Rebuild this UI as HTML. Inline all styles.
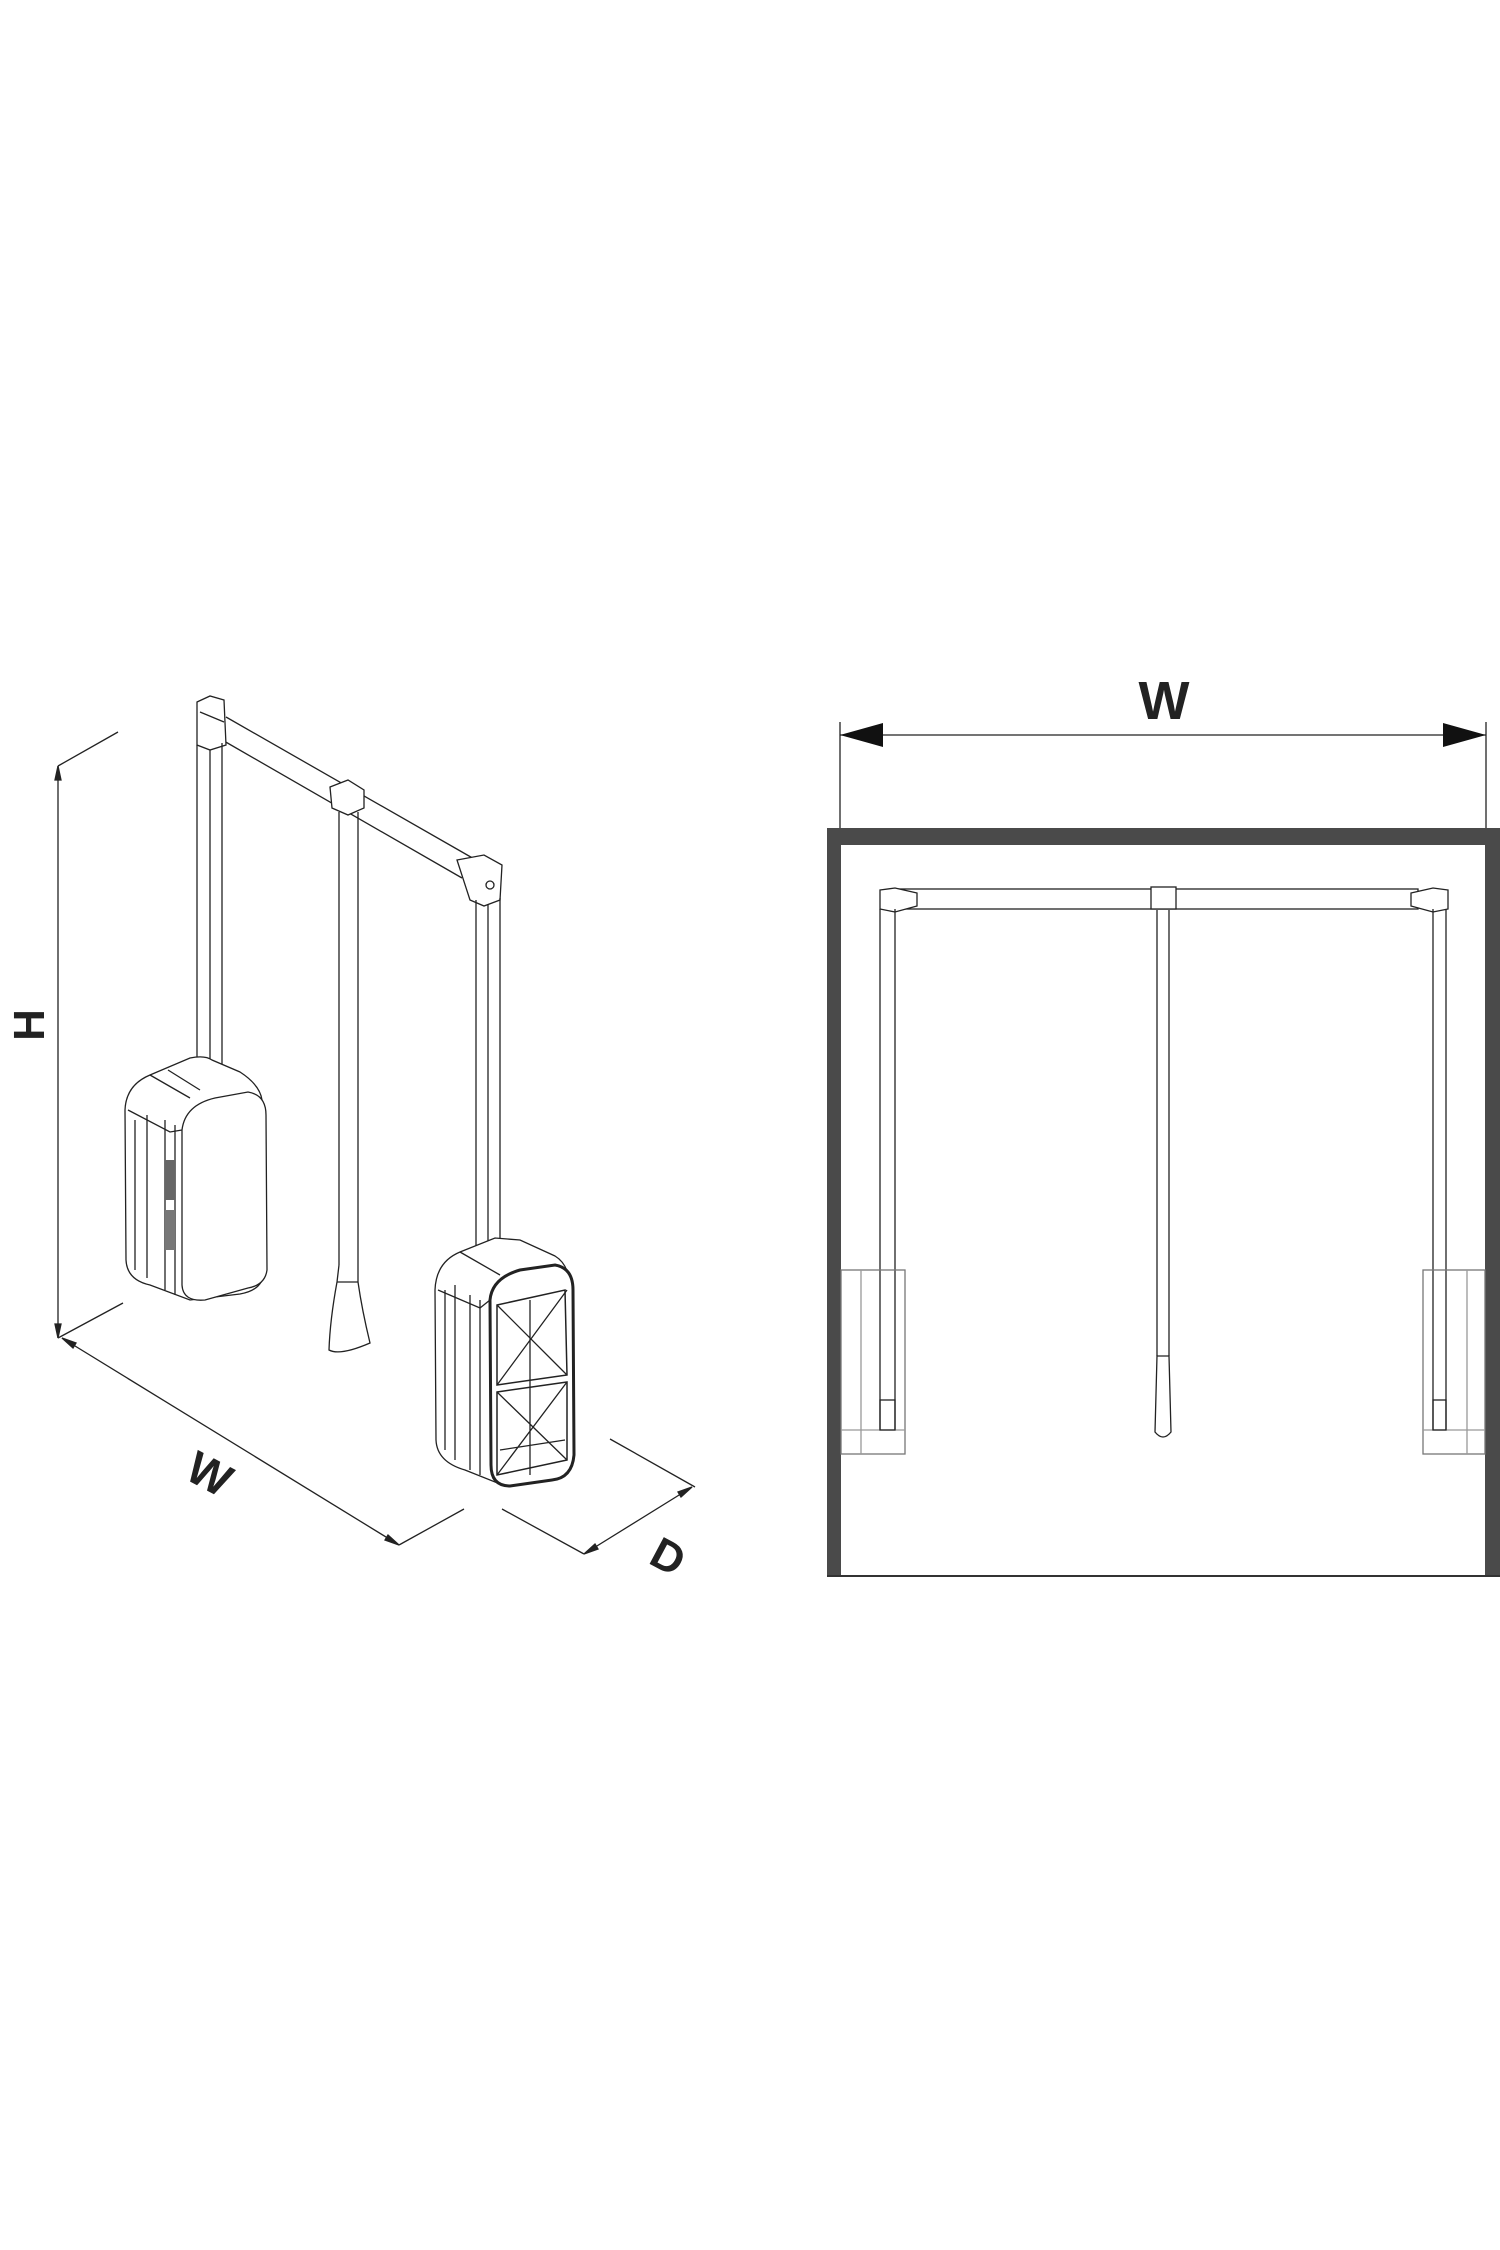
<!DOCTYPE html>
<html><head><meta charset="utf-8"><style>
html,body{margin:0;padding:0;background:#fff;}
svg{display:block;}
</style></head><body>
<svg width="1500" height="2250" viewBox="0 0 1500 2250" xmlns="http://www.w3.org/2000/svg">
<rect width="1500" height="2250" fill="#fff"/>
<g stroke="#222" fill="none" stroke-width="1.3">
<!-- H dimension -->
<line x1="58" y1="766" x2="58" y2="1338"/>
<line x1="58" y1="766" x2="118" y2="732"/>
<line x1="58" y1="1338" x2="123" y2="1303"/>
<polygon points="58,766 55,780 61,780" fill="#222"/>
<polygon points="58,1338 55,1324 61,1324" fill="#222"/>
<!-- W diagonal -->
<line x1="62" y1="1338" x2="399" y2="1545"/>
<line x1="399" y1="1545" x2="464" y2="1509"/>
<polygon points="62,1338 76,1343 73,1348" fill="#222"/>
<polygon points="399,1545 385,1540 388,1535" fill="#222"/>
<!-- D -->
<line x1="584" y1="1554" x2="692" y2="1487"/>
<line x1="502" y1="1509" x2="584" y2="1554"/>
<line x1="610" y1="1439" x2="695" y2="1487"/>
<polygon points="584,1554 595,1544 598,1549" fill="#222"/>
<polygon points="692,1487 681,1497 678,1492" fill="#222"/>

<!-- rail -->
<line x1="226" y1="717" x2="476" y2="860"/>
<line x1="224" y1="741" x2="462" y2="878"/>
<path d="M197,702 L210,696 L224,700 L226,745 L210,750 L197,745 Z" fill="#fff"/>
<path d="M200,712 L224,722"/>
<path d="M330,787 L348,780 L364,790 L364,808 L348,815 L332,808 Z" fill="#fff"/>
<path d="M457,860 L484,855 L502,865 L500,900 L484,906 L470,900 Z" fill="#fff"/>
<circle cx="490" cy="885" r="4"/>
<!-- left rod -->
<line x1="197" y1="745" x2="197" y2="1101"/>
<line x1="210" y1="750" x2="210" y2="1101"/>
<line x1="222" y1="743" x2="222" y2="1101"/>
<!-- center rod -->
<line x1="339" y1="812" x2="339" y2="1265"/>
<line x1="358" y1="812" x2="358" y2="1265"/>
<path d="M339,1265 L337,1282 Q330,1320 329,1350 Q340,1356 370,1343 Q362,1310 358,1282 L358,1265"/>
<line x1="337" y1="1282" x2="358" y2="1282"/>
<!-- left box -->
<path d="M125,1110 Q126,1085 150,1075 L190,1058 Q205,1055 212,1060 L240,1072 Q260,1085 262,1100 L264,1270 Q264,1290 240,1294 L190,1300 L150,1285 Q127,1280 126,1260 Z" fill="#fff"/>
<path d="M182,1130 Q185,1105 215,1098 L248,1092 Q266,1095 266,1115 L267,1270 Q265,1285 248,1288 L205,1300 Q183,1302 182,1285 Z" fill="#fff"/>
<path d="M135,1120 L135,1270 M147,1115 L147,1278 M165,1120 L165,1290 M175,1125 L175,1295"/>
<path d="M128,1110 L170,1132 L182,1130 M150,1075 L190,1098 M168,1070 L200,1090"/>
<rect x="165" y="1160" width="10" height="40" fill="#666" stroke="none"/>
<rect x="165" y="1210" width="10" height="40" fill="#777" stroke="none"/>
<!-- right rod -->
<line x1="476" y1="900" x2="476" y2="1259"/>
<line x1="488" y1="904" x2="488" y2="1259"/>
<line x1="500" y1="898" x2="500" y2="1259"/>
<!-- right box -->
<path d="M435,1290 Q436,1262 460,1252 L495,1238 L520,1240 L555,1256 Q570,1265 570,1290 L572,1450 Q571,1476 550,1480 L505,1486 L465,1470 Q437,1462 436,1440 Z" fill="#fff"/>
<path d="M490,1300 Q492,1278 520,1270 L555,1265 Q573,1268 573,1290 L574,1455 Q572,1478 552,1480 L510,1486 Q491,1486 491,1465 Z" fill="#fff" stroke-width="3"/>
<path d="M497,1305 L565,1290 L567,1375 L497,1385 Z M497,1392 L567,1382 L567,1460 L497,1475 Z" stroke-width="1.5"/>
<path d="M497,1305 L567,1375 M567,1290 L497,1385 M497,1392 L567,1460 M567,1382 L497,1475 M530,1300 L530,1475 M500,1450 L565,1440"/>
<path d="M445,1290 L445,1450 M455,1285 L455,1460 M470,1295 L470,1470 M480,1300 L480,1475"/>
<path d="M438,1290 L480,1308 L490,1300 M460,1252 L500,1275"/>
</g>
<g font-family="'Liberation Sans',sans-serif" font-weight="bold" fill="#222">
<text x="0" y="0" font-size="44" transform="translate(44,1025) rotate(-90)" text-anchor="middle">H</text>
<text x="0" y="0" font-size="46" transform="translate(202,1488) rotate(28)" text-anchor="middle">W</text>
<text x="0" y="0" font-size="44" transform="translate(661,1570) rotate(28)" text-anchor="middle">D</text>
<text x="1164" y="719" font-size="54" text-anchor="middle">W</text>
</g>

<!-- right panel -->
<g stroke="#222" fill="none" stroke-width="1.3">
<line x1="840" y1="735" x2="1486" y2="735"/>
<line x1="840" y1="722" x2="840" y2="828"/>
<line x1="1486" y1="722" x2="1486" y2="828"/>
<polygon points="840,735 883,723 883,747" fill="#111" stroke="none"/>
<polygon points="1486,735 1443,723 1443,747" fill="#111" stroke="none"/>
</g>
<rect x="827" y="828" width="673" height="17" fill="#4a4a4a"/>
<rect x="827" y="828" width="14" height="748" fill="#4a4a4a"/>
<rect x="1485" y="828" width="15" height="748" fill="#4a4a4a"/>
<line x1="827" y1="1576" x2="1500" y2="1576" stroke="#333" stroke-width="2"/>
<g stroke="#222" fill="none" stroke-width="1.3">
<rect x="895" y="889" width="523" height="20"/>
<rect x="1151" y="887" width="25" height="22" fill="#fff"/>
<path d="M880,890 L895,888 L917,893 L917,906 L895,912 L880,909 Z" fill="#fff"/>
<path d="M1448,890 L1433,888 L1411,893 L1411,906 L1433,912 L1448,909 Z" fill="#fff"/>
<line x1="880" y1="909" x2="880" y2="1430"/>
<line x1="895" y1="909" x2="895" y2="1430"/>
<line x1="1433" y1="909" x2="1433" y2="1430"/>
<line x1="1446" y1="909" x2="1446" y2="1430"/>
<line x1="1157" y1="910" x2="1157" y2="1356"/>
<line x1="1169" y1="910" x2="1169" y2="1356"/>
<path d="M1157,1356 L1155,1432 Q1163,1442 1171,1432 L1169,1356 Z" fill="#fff"/>
<rect x="841" y="1270" width="64" height="184" stroke="#777"/>
<line x1="861" y1="1270" x2="861" y2="1454" stroke="#999"/>
<line x1="841" y1="1430" x2="905" y2="1430" stroke="#999"/>
<rect x="880" y="1400" width="15" height="30"/>
<rect x="1423" y="1270" width="62" height="184" stroke="#777"/>
<line x1="1467" y1="1270" x2="1467" y2="1454" stroke="#999"/>
<line x1="1423" y1="1430" x2="1485" y2="1430" stroke="#999"/>
<rect x="1433" y="1400" width="13" height="30"/>
</g>
</svg>
</body></html>
